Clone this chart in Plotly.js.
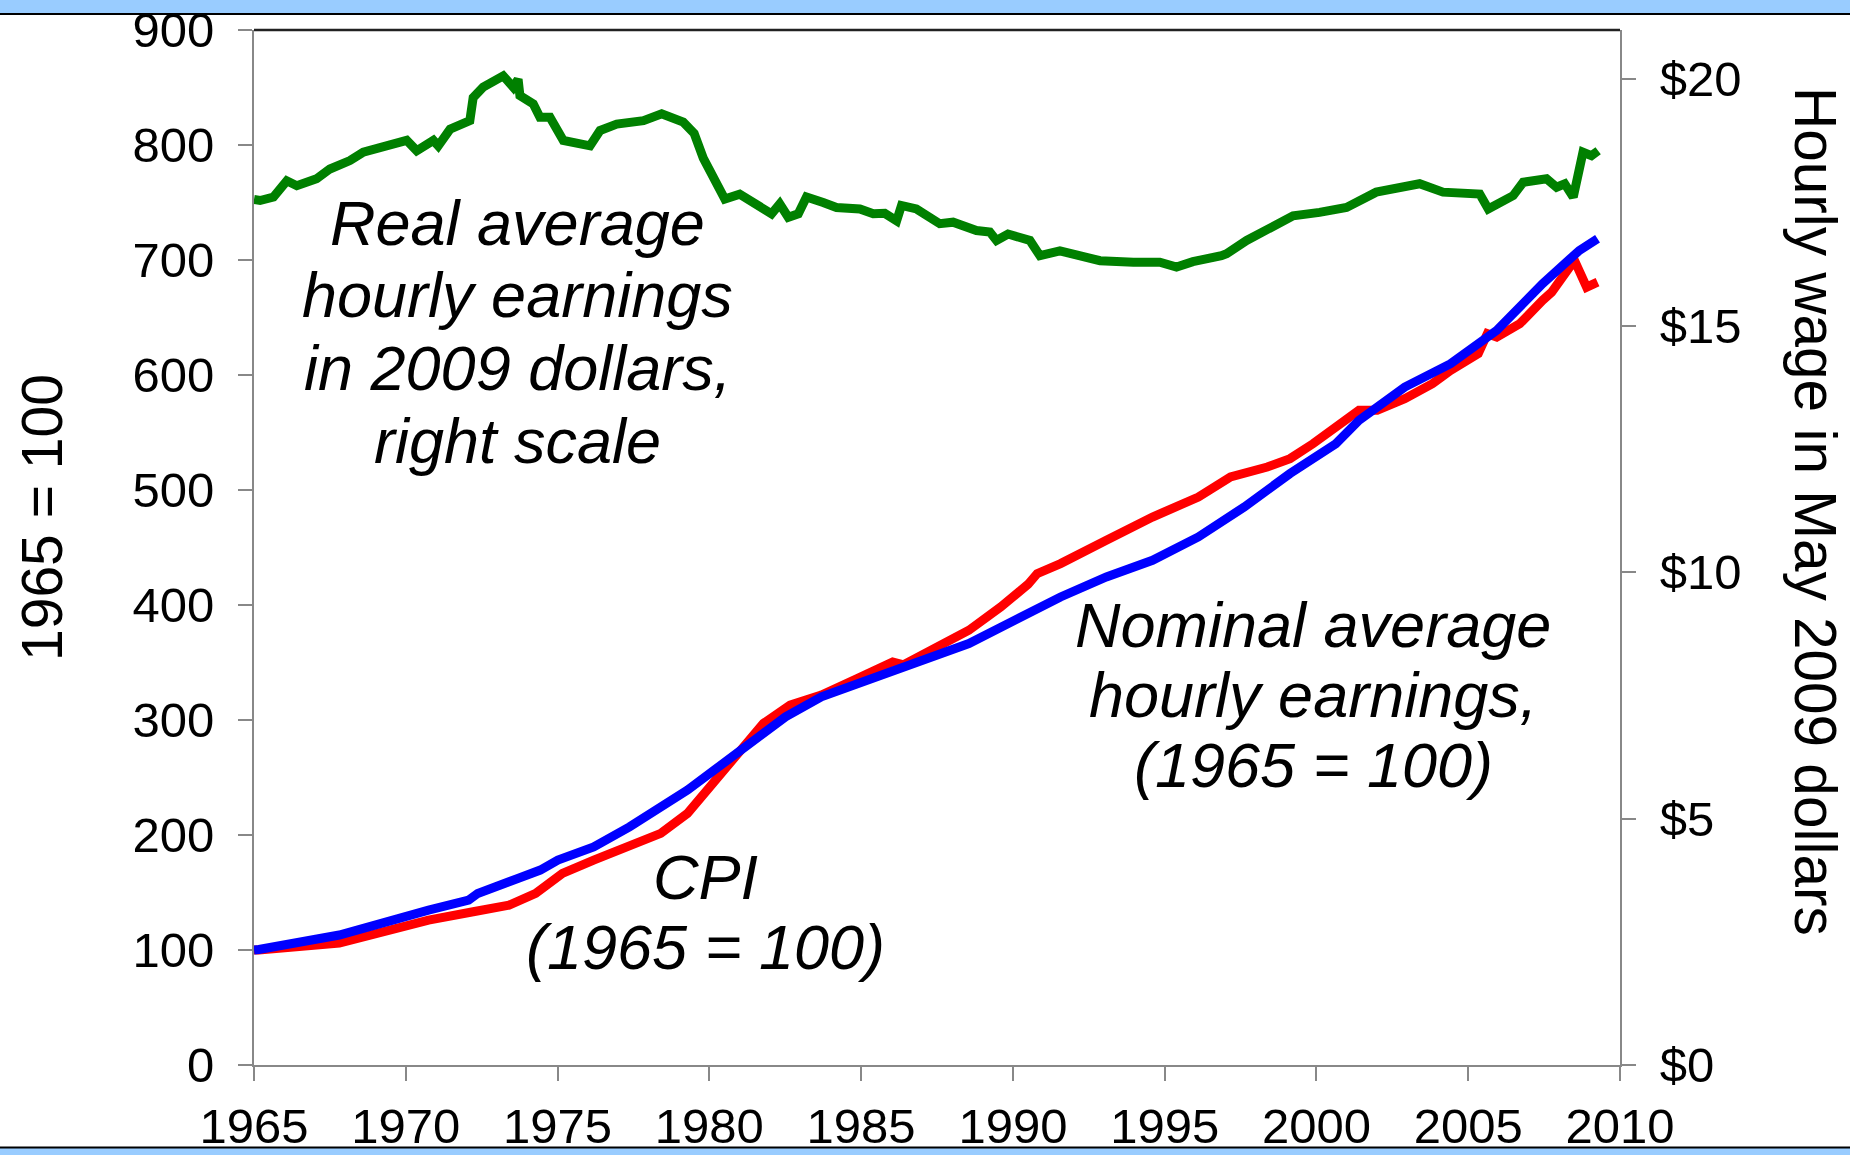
<!DOCTYPE html>
<html><head><meta charset="utf-8">
<script src="https://cdn.plot.ly/plotly-3.0.1.min.js"></script>
<style>html,body{margin:0;padding:0;background:#fff}#chart{width:1850px;height:1155px}</style>
</head><body><div id="chart"></div>
<script>
// ---- data ----
const realYears = [1965.0,1965.2,1965.64,1966.08,1966.41,1967.06,1967.5,1968.16,1968.6,1969.26,1970.03,1970.36,1970.91,1971.07,1971.46,1972.11,1972.22,1972.55,1973.21,1973.54,1973.7,1973.76,1974.2,1974.42,1974.75,1975.19,1975.85,1976.07,1976.4,1976.95,1977.83,1978.43,1979.14,1979.5,1979.8,1980.18,1980.51,1981.0,1981.67,1982.05,1982.32,1982.6,1982.93,1983.2,1983.75,1984.19,1984.96,1985.4,1985.78,1986.17,1986.33,1986.82,1987.59,1988.03,1988.8,1989.24,1989.46,1989.84,1990.56,1990.89,1991.55,1992.1,1992.87,1993.97,1994.84,1995.39,1995.93,1996.87,1997.04,1997.7,1998.36,1999.23,2000.1,2000.99,2001.97,2002.96,2003.4,2004.17,2005.38,2005.66,2006.48,2006.81,2007.58,2007.91,2008.18,2008.46,2008.78,2009.06,2009.28];
const realWage = [17.56,17.54,17.61,17.94,17.84,17.98,18.18,18.35,18.52,18.65,18.76,18.55,18.76,18.65,18.99,19.16,19.63,19.84,20.07,19.84,20.0,19.67,19.5,19.23,19.23,18.76,18.65,18.65,18.96,19.09,19.16,19.3,19.13,18.9,18.4,17.91,17.57,17.67,17.44,17.27,17.47,17.2,17.27,17.61,17.5,17.4,17.37,17.27,17.28,17.13,17.44,17.37,17.07,17.1,16.93,16.9,16.73,16.86,16.73,16.42,16.52,16.42,16.32,16.29,16.29,16.19,16.3,16.42,16.46,16.73,16.96,17.23,17.3,17.4,17.71,17.81,17.88,17.71,17.67,17.37,17.64,17.91,17.98,17.81,17.88,17.61,18.52,18.45,18.55];

const nomYears = [1965.0,1965.16,1967.81,1969.28,1970.75,1972.07,1972.37,1973.69,1974.43,1975.01,1976.19,1977.37,1978.1,1979.28,1980.16,1980.9,1981.49,1982.51,1983.69,1984.72,1986.04,1987.03,1988.55,1990.06,1991.57,1993.08,1994.6,1996.11,1997.62,1999.13,2000.64,2001.4,2002.91,2004.42,2005.94,2007.45,2008.66,2009.26];
const nominal = [100,100.5,113,124.6,134.7,143.4,149.2,162.2,169.5,178.2,189.7,207.1,218.8,239,256.4,270.9,284,302.7,320.1,330.3,343.3,352,366.5,386.8,407,424.4,438.9,459.2,485.2,514.3,540.3,560.6,589.5,609.8,638.8,679.4,708.3,718.5];

const cpiYears = [1965.0,1965.16,1967.81,1969.28,1970.75,1972.22,1973.4,1974.28,1975.16,1976.19,1977.37,1978.4,1979.28,1980.01,1980.6,1981.19,1981.78,1982.66,1983.69,1984.87,1986.04,1986.4,1987.03,1988.55,1989.6,1990.5,1990.8,1991.57,1993.08,1994.6,1996.11,1997.17,1998.38,1999.13,1999.89,2000.64,2001.4,2002.0,2002.91,2003.82,2004.42,2005.33,2005.63,2005.94,2006.7,2007.45,2007.75,2008.5,2008.9,2009.26];
const cpi = [100,100,106,116,126,133.3,139,149.2,166.6,178.2,189.7,201.4,218.8,241.9,259.3,279.6,297,312.9,321.6,336,350.5,348,356.3,378,398.3,418,427.3,436,456.3,476.5,493.9,511.3,520,527.3,540.3,554.8,569.3,569.3,579.4,592.5,604,618.6,635.9,633,644.6,664.9,672,699.6,676.4,680.8];

const xTicks = [1965,1970,1975,1980,1985,1990,1995,2000,2005,2010];
const leftTicks = [0,100,200,300,400,500,600,700,800,900];
const rightTicks = [0,5,10,15,20];
const rightTickText = ['$0','$5','$10','$15','$20'];

const realLabel = ['Real average','hourly earnings','in 2009 dollars,','right scale'];
const nomLabel = ['Nominal average','hourly earnings,','(1965 = 100)'];
const cpiLabel = ['CPI','(1965 = 100)'];
const leftTitle = '1965 = 100';
const rightTitle = 'Hourly wage in May 2009 dollars';

// ---- layout geometry (pixels) ----
const L = 254, R = 1620, T = 30, B = 1065;
const px = X => (X - L) / (R - L);
const py = Y => (B - Y) / (B - T);
const FONT = 'Liberation Sans, Arial, Helvetica, sans-serif';
const AX = '#888888';

const traces = [
  {x: realYears, y: realWage, yaxis: 'y2', mode: 'lines', line: {color: '#008000', width: 9}, hoverinfo: 'skip'},
  {x: cpiYears, y: cpi, mode: 'lines', line: {color: '#FF0000', width: 9}, hoverinfo: 'skip'},
  {x: nomYears, y: nominal, mode: 'lines', line: {color: '#0000FF', width: 9}, hoverinfo: 'skip'}
];

const annotations = [];
function block(lines, X, Y0, step) {
  lines.forEach((t, i) => annotations.push({
    xref: 'paper', yref: 'paper', x: px(X), y: py(Y0 + i * step),
    xanchor: 'center', yanchor: 'middle', showarrow: false,
    text: '<i>' + t + '</i>', font: {family: FONT, size: 63, color: '#000'}
  }));
}
block(realLabel, 517, 223, 72.5);
block(nomLabel, 1313, 625, 70);
block(cpiLabel, 705, 877, 70);
annotations.push({xref: 'paper', yref: 'paper', x: px(42), y: py(518), textangle: -90,
  xanchor: 'center', yanchor: 'middle', showarrow: false, text: leftTitle,
  font: {family: FONT, size: 57, color: '#000'}});
annotations.push({xref: 'paper', yref: 'paper', x: px(1816), y: py(511), textangle: 90,
  xanchor: 'center', yanchor: 'middle', showarrow: false, text: rightTitle,
  font: {family: FONT, size: 58.5, color: '#000'}});

const shapes = [
  {type: 'rect', xref: 'paper', yref: 'paper', x0: px(-10), x1: px(1860), y0: py(-10), y1: py(13), fillcolor: '#99CCFF', line: {width: 0}, layer: 'above'},
  {type: 'line', xref: 'paper', yref: 'paper', x0: px(-10), x1: px(1860), y0: py(14), y1: py(14), line: {color: '#000', width: 2}, layer: 'above'},
  {type: 'rect', xref: 'paper', yref: 'paper', x0: px(-10), x1: px(1860), y0: py(1148), y1: py(1170), fillcolor: '#99CCFF', line: {width: 0}, layer: 'above'},
  {type: 'line', xref: 'paper', yref: 'paper', x0: px(-10), x1: px(1860), y0: py(1147.5), y1: py(1147.5), line: {color: '#000', width: 2}, layer: 'above'},
  {type: 'line', xref: 'paper', yref: 'paper', x0: 0, x1: 1, y0: 1, y1: 1, line: {color: '#222', width: 2.5}, layer: 'above'}
];

const axisCommon = {
  showgrid: false, zeroline: false, showline: true, linecolor: AX, linewidth: 2,
  ticks: 'outside', ticklen: 14, tickwidth: 2, tickcolor: AX,
  tickfont: {family: FONT, size: 49, color: '#000'}
};

const layout = {
  width: 1850, height: 1155,
  margin: {l: L, r: 1850 - R, t: T, b: 1155 - B, pad: 0},
  paper_bgcolor: '#fff', plot_bgcolor: '#fff',
  showlegend: false,
  font: {family: FONT, color: '#000'},
  xaxis: Object.assign({}, axisCommon, {range: [1965, 2010], tickmode: 'array', tickvals: xTicks, ticktext: xTicks.map(String), ticklabelstandoff: 3}),
  yaxis: Object.assign({}, axisCommon, {range: [0, 900], tickmode: 'array', tickvals: leftTicks, ticktext: leftTicks.map(String), ticklabelstandoff: 14}),
  yaxis2: Object.assign({}, axisCommon, {range: [0, 21], overlaying: 'y', side: 'right', tickmode: 'array', tickvals: rightTicks, ticktext: rightTickText, ticklabelstandoff: 14}),
  annotations: annotations,
  shapes: shapes
};

Plotly.newPlot('chart', traces, layout, {displayModeBar: false, staticPlot: true});
</script>
</body></html>
